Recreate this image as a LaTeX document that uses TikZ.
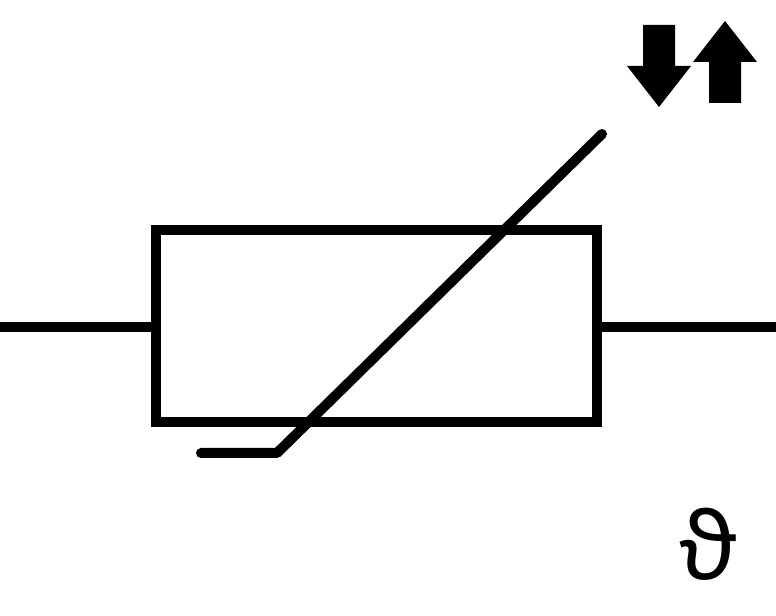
\documentclass[tikz,border=0pt]{standalone}
\usepackage{fontspec}
\newfontfamily\thetafont{Noto Sans}
\tikzset{wire/.style={line width=10pt*0.75},
  stroke/.style={line width=10pt*0.75,line cap=round,line join=round}}
\begin{document}
\begin{tikzpicture}[x=0.75pt,y=-0.75pt]
\useasboundingbox (0,0) rectangle (776,616);
\coordinate (wl) at (0,327);
\coordinate (wr) at (776,327);
\coordinate (bl) at (156,327);
\coordinate (br) at (597,327);
\draw [wire] (156,230) rectangle (597,422);
\draw [wire] (wl) -- (bl);
\draw [wire] (br) -- (wr);
\coordinate (t0) at (201,453);
\coordinate (t1) at (277,453);
\coordinate (t2) at (602,134);
\draw [stroke] (t0) -- (t1) -- (t2);
\fill (643,25) -- (675,25) -- (675,66) -- (691,66) -- (659,107) -- (627,66) -- (643,66) -- cycle;
\fill (709,103) -- (741,103) -- (741,62) -- (757,62) -- (725,21) -- (693,62) -- (709,62) -- cycle;
\node (theta) at (709,544) {\thetafont\fontsize{70}{70}\selectfont ϑ};
\end{tikzpicture}
\end{document}
